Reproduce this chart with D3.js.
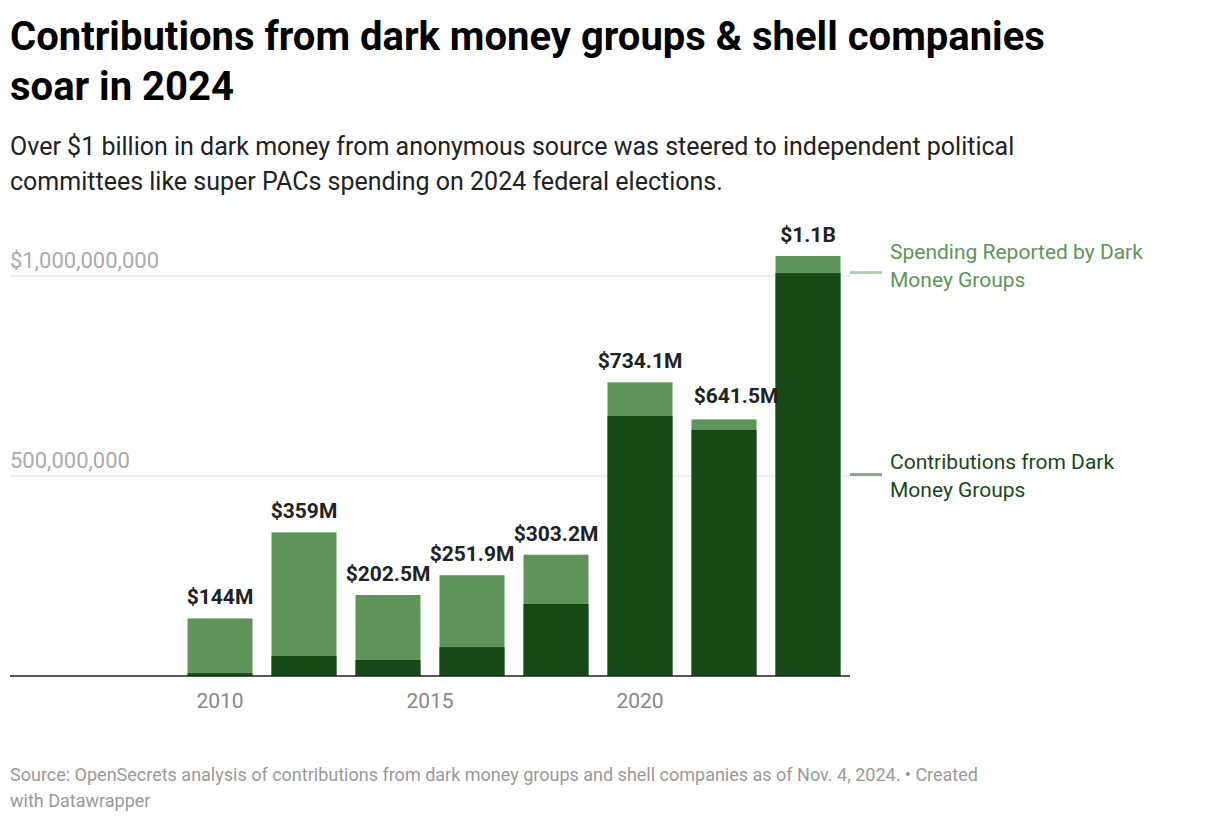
<!DOCTYPE html>
<html><head><meta charset="utf-8">
<script src="https://cdn.jsdelivr.net/npm/d3@7"></script>
<style>
body{margin:0;background:#fff;font-family:Roboto,sans-serif;}
</style></head>
<body>
<script>
// data, millions of dollars
var years = [2010, 2012, 2014, 2016, 2018, 2020, 2022, 2024];
var totals = [144, 359, 202.5, 251.9, 303.2, 734.1, 641.5, 1050];
var darkContrib = [7, 50, 40, 72, 180, 650, 615, 1007];
var totalLabels = ["$144M", "$359M", "$202.5M", "$251.9M", "$303.2M", "$734.1M", "$641.5M", "$1.1B"];
var yTicks = [500, 1000];
var yTickLabels = ["500,000,000", "$1,000,000,000"];
var xTicks = [2010, 2015, 2020];

var lightcolor = "#5e9459";
var darkcolor = "#154a17";

var svg = d3.select("body").append("svg").attr("width", 1220).attr("height", 824);

svg.append("text").attr("x", 10).attr("y", 50).attr("font-size", 40).attr("font-weight", 700).attr("fill", "#000")
    .text("Contributions from dark money groups & shell companies");
svg.append("text").attr("x", 10).attr("y", 100).attr("font-size", 40).attr("font-weight", 700).attr("fill", "#000")
    .text("soar in 2024");
svg.append("text").attr("x", 10).attr("y", 155).attr("font-size", 25).attr("fill", "#222")
    .text("Over $1 billion in dark money from anonymous source was steered to independent political");
svg.append("text").attr("x", 10).attr("y", 190).attr("font-size", 25).attr("fill", "#222")
    .text("committees like super PACs spending on 2024 federal elections.");

var x = d3.scaleLinear().domain([2005, 2025]).range([10, 850]);
var y = d3.scaleLinear().domain([0, 1000]).range([676, 276]);
var bw = 65;

/*grid*/
svg.selectAll(".grid").data(yTicks).enter().append("line")
    .attr("x1", 10).attr("x2", 850).attr("y1", d => y(d)).attr("y2", d => y(d))
    .attr("stroke", "#ddd");
svg.selectAll(".ylab").data(yTicks).enter().append("text")
    .attr("x", 10).attr("y", d => y(d) - 8).attr("font-size", 22).attr("fill", "#aaa")
    .text((d, i) => yTickLabels[i]);

/*bars*/
svg.selectAll(".tot").data(years).enter().append("rect")
    .attr("x", d => x(d) - bw / 2).attr("width", bw)
    .attr("y", (d, i) => y(totals[i])).attr("height", (d, i) => y(0) - y(totals[i]))
    .attr("fill", lightcolor);
svg.selectAll(".dk").data(years).enter().append("rect")
    .attr("x", d => x(d) - bw / 2).attr("width", bw)
    .attr("y", (d, i) => y(darkContrib[i])).attr("height", (d, i) => y(0) - y(darkContrib[i]))
    .attr("fill", darkcolor);
svg.selectAll(".vl").data(years).enter().append("text")
    .attr("x", d => x(d) + (d == 2022 ? 12 : 0)).attr("y", (d, i) => y(totals[i]) - (d == 2022 ? 16 : 14))
    .attr("text-anchor", "middle").attr("font-size", 21).attr("font-weight", 700).attr("fill", "#222")
    .text((d, i) => totalLabels[i]);

svg.append("line").attr("x1", 10).attr("x2", 850).attr("y1", 676).attr("y2", 676).attr("stroke", "#222").attr("stroke-width", 1.5);
svg.selectAll(".xl").data(xTicks).enter().append("text")
    .attr("x", d => x(d)).attr("y", 708).attr("text-anchor", "middle").attr("font-size", 21).attr("fill", "#888")
    .text(d => d);

/*legend labels*/
var last = years.length - 1;
var lyA = y((totals[last] + darkContrib[last]) / 2) + 8;
var lyB = y(darkContrib[last] / 2);
svg.append("line").attr("x1", 850).attr("x2", 882).attr("y1", lyA).attr("y2", lyA).attr("stroke", "#b5cdb2").attr("stroke-width", 3);
svg.append("line").attr("x1", 850).attr("x2", 882).attr("y1", lyB).attr("y2", lyB).attr("stroke", "#8aa388").attr("stroke-width", 3);
var lg = svg.append("g").attr("font-size", 21);
lg.append("text").attr("x", 890).attr("y", 259).attr("fill", lightcolor).text("Spending Reported by Dark");
lg.append("text").attr("x", 890).attr("y", 287).attr("fill", lightcolor).text("Money Groups");
lg.append("text").attr("x", 890).attr("y", 469).attr("fill", darkcolor).text("Contributions from Dark");
lg.append("text").attr("x", 890).attr("y", 497).attr("fill", darkcolor).text("Money Groups");

svg.append("text").attr("x", 10).attr("y", 781).attr("font-size", 18).attr("fill", "#999")
    .text("Source: OpenSecrets analysis of contributions from dark money groups and shell companies as of Nov. 4, 2024. • Created");
svg.append("text").attr("x", 10).attr("y", 807).attr("font-size", 18).attr("fill", "#999").text("with Datawrapper");
</script>
</body></html>
